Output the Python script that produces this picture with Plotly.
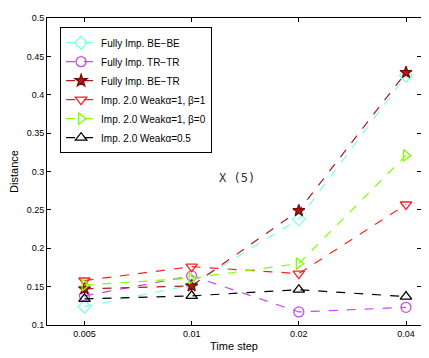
import plotly.graph_objects as go

time_steps = ["0.005", "0.01", "0.02", "0.04"]

be_be = [0.124, 0.152, 0.238, 0.425]
tr_tr = [0.138, 0.164, 0.117, 0.123]
be_tr = [0.147, 0.151, 0.249, 0.429]
weak_a1_b1 = [0.158, 0.176, 0.167, 0.257]
weak_a1_b0 = [0.152, 0.161, 0.180, 0.321]
weak_a05 = [0.134, 0.138, 0.146, 0.137]

y_ticks = [0.1, 0.15, 0.2, 0.25, 0.3, 0.35, 0.4, 0.45, 0.5]

series = [
    ("Fully Imp. BE\u2212BE", be_be, "#80ffe6", "diamond-open", 10),
    ("Fully Imp. TR\u2212TR", tr_tr, "#cc44ff", "circle-open", 10),
    ("Fully Imp. BE\u2212TR", be_tr, "#b21a1a", "star", 9),
    ("Imp. 2.0 Weak\u03b1=1, \u03b2=1", weak_a1_b1, "#ff2020", "triangle-down-open", 10),
    ("Imp. 2.0 Weak\u03b1=1, \u03b2=0", weak_a1_b0, "#7fff00", "triangle-right-open", 10),
    ("Imp. 2.0 Weak\u03b1=0.5", weak_a05, "#000000", "triangle-up-open", 10),
]

xi = list(range(len(time_steps)))

fig = go.Figure()
for name, vals, color, sym, sz in series:
    fig.add_trace(go.Scatter(
        x=xi, y=vals, mode="lines+markers", name=name,
        line=dict(color=color, width=1.2, dash="dash"),
        marker=dict(symbol=sym, size=sz, color=color,
                    line=dict(width=1.3, color="#7a0a0a" if sym == "star" else color)),
    ))

fig.add_annotation(x=1.42, y=0.292, text="X (5)", showarrow=False,
                   font=dict(size=12, color="#333", family="DejaVu Sans Mono"))

# page body has an 8px margin, so the figure is a bit smaller than the window
axis_font = dict(size=9, color="#000", family="Liberation Sans")
fig.update_layout(
    width=421, height=350,
    paper_bgcolor="white", plot_bgcolor="white",
    margin=dict(l=37, r=8, t=5, b=33),
    font=dict(family="Liberation Sans", color="#000"),
    showlegend=True,
    legend=dict(
        x=0.035, y=0.97, xanchor="left", yanchor="top",
        bgcolor="white", bordercolor="#000", borderwidth=1,
        font=dict(size=10, family="Liberation Sans"),
        tracegroupgap=0, itemwidth=30,
    ),
    xaxis=dict(
        range=[-0.35, 3.14],
        tickvals=xi, ticktext=time_steps,
        showgrid=False, zeroline=False,
        showline=True, linecolor="#000", linewidth=1, mirror="ticks",
        ticks="inside", ticklen=4, tickcolor="#000",
        tickfont=axis_font,
        title=dict(text="Time step", font=dict(size=11), standoff=4),
    ),
    yaxis=dict(
        range=[0.1, 0.5],
        tickvals=y_ticks, ticktext=[f"{v:g}" for v in y_ticks],
        showgrid=False, zeroline=False,
        showline=True, linecolor="#000", linewidth=1, mirror="ticks",
        ticks="inside", ticklen=4, tickcolor="#000",
        tickfont=axis_font,
        title=dict(text="Distance", font=dict(size=11), standoff=6),
    ),
)

fig.write_html("out.html")
